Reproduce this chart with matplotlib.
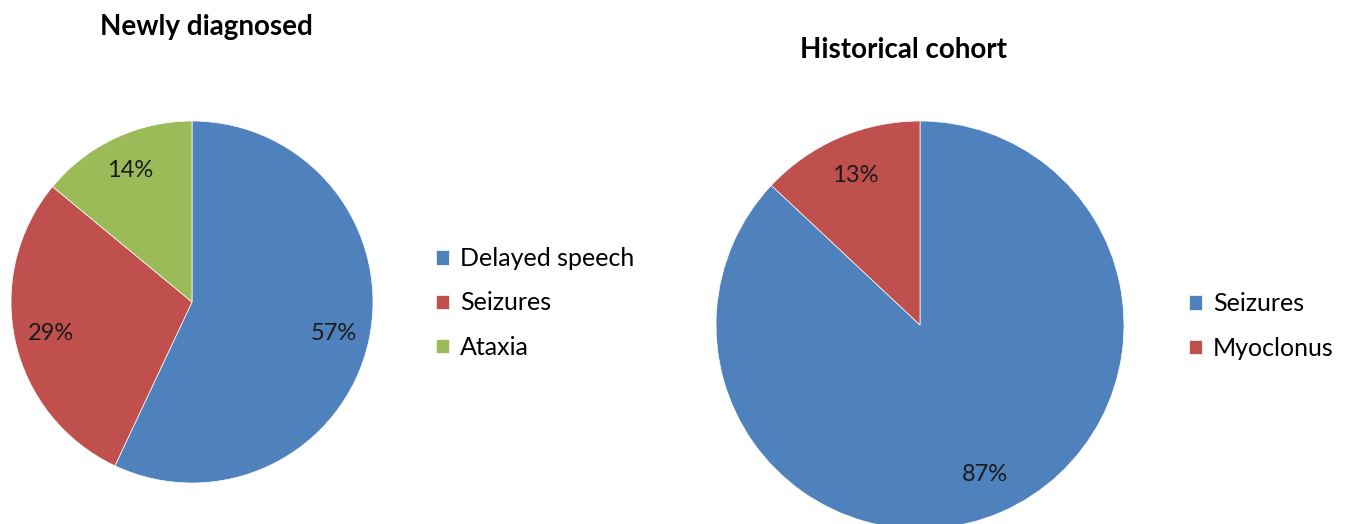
import matplotlib.pyplot as plt

plt.rcParams['font.family'] = ['Lato', 'DejaVu Sans']

# Newly diagnosed patients
new_labels = ['Delayed speech', 'Seizures', 'Ataxia']
new_values = [57, 29, 14]

# Historical cohort
hist_labels = ['Seizures', 'Myoclonus']
hist_values = [87, 13]

blue = '#4F81BD'
red = '#C0504D'
green = '#9BBB59'

W, H = 1354, 524
fig = plt.figure(figsize=(W / 100, H / 100), dpi=100)


def pie_axes(cx, cy, r):
    # place an axes so the unit pie sits at pixel centre (cx, cy) with radius r
    ax = fig.add_axes([(cx - r) / W, (H - cy - r) / H, 2 * r / W, 2 * r / H])
    ax.set_xlim(-1, 1)
    ax.set_ylim(-1, 1)
    ax.axis('off')
    return ax


def add_legend(wedges, labels, x, y):
    fig.legend(wedges, labels, loc='center left',
               bbox_to_anchor=(x / W, 1 - y / H), frameon=False,
               fontsize=18, handlelength=0.5, handleheight=0.5,
               handletextpad=0.45, labelspacing=0.85,
               borderpad=0, borderaxespad=0)


ax1 = pie_axes(192, 302, 181)
w1, _, t1 = ax1.pie(new_values, colors=[blue, red, green], startangle=90,
                    counterclock=False, autopct='%1.0f%%', pctdistance=0.8,
                    radius=1, frame=True,
                    wedgeprops=dict(edgecolor='white', linewidth=0.5),
                    textprops=dict(fontsize=17, color='#1a1a1a'))
ax1.axis('off')

ax2 = pie_axes(920, 325, 204)
w2, _, t2 = ax2.pie(hist_values, colors=[blue, red], startangle=90,
                    counterclock=False, autopct='%1.0f%%', pctdistance=0.8,
                    radius=1, frame=True,
                    wedgeprops=dict(edgecolor='white', linewidth=0.5),
                    textprops=dict(fontsize=17, color='#1a1a1a'))
ax2.axis('off')

fig.text(206 / W, 1 - 27 / H, 'Newly diagnosed', ha='center', va='center',
         fontsize=20, fontweight='bold')
fig.text(903 / W, 1 - 50 / H, 'Historical cohort', ha='center', va='center',
         fontsize=20, fontweight='bold')

add_legend(w1, new_labels, 436, 303)
add_legend(w2, hist_labels, 1189, 326)

fig.savefig('out.png', dpi=100)
